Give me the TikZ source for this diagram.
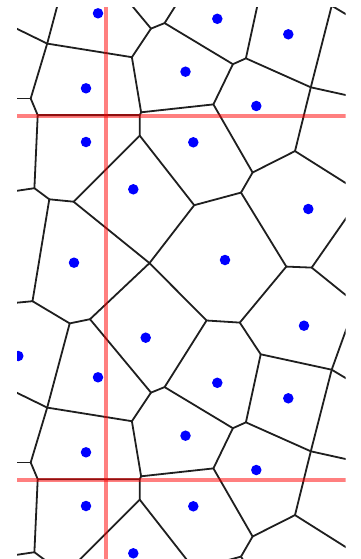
\documentclass[tikz,border=0pt]{standalone}
\usetikzlibrary{calc}
\begin{document}
\begin{tikzpicture}[x=1pt,y=-1pt,
  edge/.style={line width=1.8pt, draw=black!88, line cap=round, line join=round},
  site/.style={circle, fill=blue, draw=none, inner sep=0pt, minimum size=10.5pt},
  period/.style={line width=3.8pt, draw=red, opacity=0.5}]
\useasboundingbox (0,0) rectangle (360,559);
\begin{scope}
\clip (17,8) rectangle (345.5,559);
\foreach \s in {0,364} {
  \begin{scope}[shift={(0,\s)}]
    \coordinate (A) at (47.2,43.6);
    \coordinate (B) at (131.9,57.2);
    \coordinate (C) at (30.7,98.5);
    \coordinate (C2) at (37.7,115.15);
    \coordinate (D) at (34.4,188.2);
    \coordinate (E) at (151.0,28.6);
    \coordinate (F) at (164.6,23.1);
    \coordinate (G) at (141.1,112.3);
    \coordinate (G2) at (139.7,115.15);
    \coordinate (H) at (213.4,104.4);
    \coordinate (H1) at (232.9,64.2);
    \coordinate (H2) at (245.9,58.35);
    \coordinate (I) at (139.7,135.6);
    \coordinate (J) at (73.6,201.7);
    \coordinate (K) at (49.3,199.3);
    \coordinate (L) at (194.2,205.2);
    \coordinate (M) at (241.0,192.6);
    \coordinate (N) at (252.6,172.5);
    \coordinate (O) at (295.0,151.1);
    \coordinate (P) at (286.3,266.6);
    \coordinate (Q) at (311.7,267.6);
    \coordinate (R) at (310.8,87.3);
    \coordinate (S) at (331.7,5.7);
    \coordinate (T) at (32.5,301.2);
    \coordinate (U) at (69.7,323.4);
    \coordinate (V) at (90.0,319.2);
    \coordinate (X) at (149.5,263.1);
    \coordinate (AA) at (206.55,320.5);
    \coordinate (AB) at (239.8,322.6);
    \coordinate (AC) at (260.7,354.3);
    % free ends beyond the frame
    \coordinate (lA) at (0,20.5);
    \coordinate (lC) at (0,98.5);
    \coordinate (lD) at (0,193.3);
    \coordinate (lT) at (0,304.3);
    \coordinate (rR) at (360,98.2);
    \coordinate (rS) at (360,22.7);
    \coordinate (rS2) at (360.3,-73.7);
    \coordinate (rO) at (360,192.1);
    \coordinate (rQ1) at (360,198.2);
    \coordinate (rQ2) at (360,306.6);
    \draw[edge] (lA) -- (A) -- (B) -- (E) -- (F) -- (H1) -- (H2) -- (R) -- (rR);
    \draw[edge] (A) -- (C) -- (C2) -- (D) -- (K) -- (J) -- (X) -- (L) -- (M) -- (P) -- (Q) -- (rQ2);
    \draw[edge] (A) -- ($(U)+(0,-364)$);
    \draw[edge] (lC) -- (C);
    \draw[edge] (C2) -- (G2) -- (G) -- (B);
    \draw[edge] (G) -- (H) -- (H1);
    \draw[edge] (G2) -- (I) -- (J);
    \draw[edge] (I) -- (L);
    \draw[edge] (lD) -- (D);
    \draw[edge] (K) -- (T) -- (lT);
    \draw[edge] (T) -- (U) -- (V) -- (X) -- (AA) -- (AB) -- (AC) -- ($(S)+(0,364)$);
    \draw[edge] (E) -- ($(V)+(0,-364)$);
    \draw[edge] (F) -- ($(AA)+(0,-364)$);
    \draw[edge] (H2) -- ($(AC)+(0,-364)$);
    \draw[edge] (R) -- (S) -- (rS);
    \draw[edge] (S) -- (rS2);
    \draw[edge] (R) -- (O) -- (rO);
    \draw[edge] (H) -- (N) -- (O);
    \draw[edge] (N) -- (M);
    \draw[edge] (Q) -- (rQ1);
    \draw[edge] (P) -- (AB);
  \end{scope}
}
\foreach \x/\y [count=\i] in {98/13.3, 217.3/18.8, 288.3/34.3, 185.5/71.7, 86/88.3, 256.3/106, 86/142, 193.3/142.3, 133.3/189.3, 308.3/209, 74/262.7, 225/260, 304/325.7, 145.7/337.7, 18.3/356} {
  \foreach \s in {0,364} {
    \node[site] (s\i-\s) at (\x,\y+\s) {};
  }
}
\draw[period] (106,0) -- (106,559);
\draw[period] (0,115.8) -- (360,115.8);
\draw[period] (0,479.8) -- (360,479.8);
\end{scope}
\end{tikzpicture}
\end{document}
